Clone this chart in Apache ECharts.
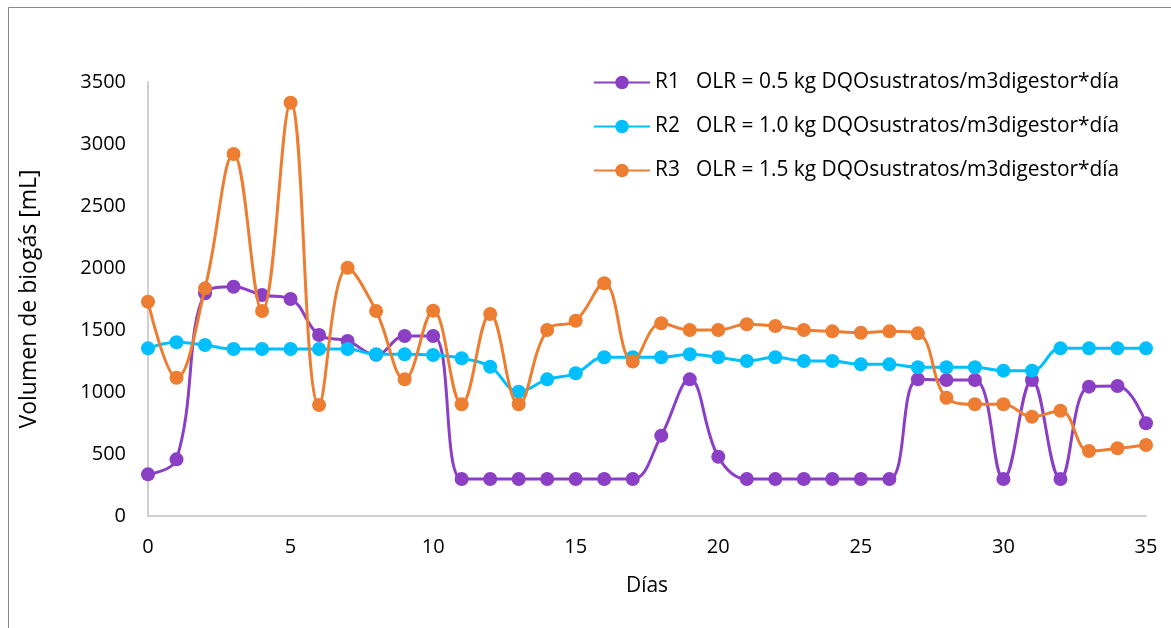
<!DOCTYPE html>
<html>
<head>
<meta charset="utf-8">
<script src="https://cdn.jsdelivr.net/npm/echarts@6/dist/echarts.min.js"></script>
<style>
html,body{margin:0;padding:0;background:#fff;}
#chart{width:1171px;height:628px;}
</style>
</head>
<body>
<div id="chart"></div>
<script>
const days = [0,1,2,3,4,5,6,7,8,9,10,11,12,13,14,15,16,17,18,19,20,21,22,23,24,25,26,27,28,29,30,31,32,33,34,35];
const r1 = [336,457,1796,1849,1782,1750,1460,1411,1300,1452,1452,298,298,298,298,298,298,298,648,1102,478,298,298,298,298,298,298,1102,1097,1097,298,1097,298,1043,1048,748];
const r2 = [1352,1401,1379,1347,1347,1347,1347,1347,1304,1304,1298,1272,1204,1003,1102,1151,1280,1280,1280,1304,1280,1250,1280,1250,1250,1223,1223,1199,1199,1199,1172,1172,1352,1352,1352,1352];
const r3 = [1728,1115,1836,2919,1653,3333,895,2002,1653,1102,1655,901,1629,901,1500,1575,1877,1245,1554,1500,1500,1546,1532,1500,1489,1478,1489,1473,954,901,901,801,849,524,546,573];
const seriesNames = ['R1   OLR = 0.5 kg DQOsustratos/m3digestor*día','R2   OLR = 1.0 kg DQOsustratos/m3digestor*día','R3   OLR = 1.5 kg DQOsustratos/m3digestor*día'];
const colors = ['#8B3FC4','#00BFFF','#ED7D31'];
const yTicks = {min:0,max:3500,interval:500};
const xTicks = {min:0,max:35,interval:5};

const FONT = 'Open Sans';
function mk(name, vals, color, z){
  return {
    name: name, type:'line', smooth:0.4, z:z,
    data: days.map((d,i)=>[d, vals[i]]),
    symbol:'circle', symbolSize:14,
    lineStyle:{color:color,width:3},
    itemStyle:{color:color},
    emphasis:{disabled:true}
  };
}
const chart = echarts.init(document.getElementById('chart'), null, {renderer:'canvas'});
chart.setOption({
  animation:false,
  backgroundColor:'#fff',
  textStyle:{fontFamily:FONT},
  graphic:[{type:'rect',shape:{x:8.5,y:7.5,width:1200,height:700},style:{fill:'none',stroke:'#888',lineWidth:1},silent:true}],
  grid:{left:148,right:25,top:82,bottom:112,containLabel:false},
  legend:{
    orient:'vertical', left:588, top:67, itemGap:23,
    itemWidth:56, itemHeight:17,
    textStyle:{fontFamily:FONT,fontSize:20.9,color:'#000'},
    data: seriesNames
  },
  xAxis:{
    type:'value', min:xTicks.min, max:xTicks.max, interval:xTicks.interval,
    name:'Días', nameLocation:'middle', nameGap:60,
    nameTextStyle:{fontFamily:FONT,fontSize:21,color:'#000'},
    axisLine:{show:true,lineStyle:{color:'#BFBFBF',width:1.5}},
    axisTick:{show:false},
    splitLine:{show:false},
    axisLabel:{fontFamily:FONT,fontSize:20,color:'#000',margin:21,formatter:v=>String(v)}
  },
  yAxis:{
    type:'value', min:yTicks.min, max:yTicks.max, interval:yTicks.interval,
    name:'Volumen de biogás [mL]', nameLocation:'middle', nameGap:107, nameRotate:90,
    nameTextStyle:{fontFamily:FONT,fontSize:23,color:'#000'},
    axisLine:{show:true,lineStyle:{color:'#BFBFBF',width:1.5}},
    axisTick:{show:false},
    splitLine:{show:false},
    axisLabel:{fontFamily:FONT,fontSize:20,color:'#000',margin:22,formatter:v=>String(v)}
  },
  series:[mk(seriesNames[0],r1,colors[0],3), mk(seriesNames[1],r2,colors[1],4), mk(seriesNames[2],r3,colors[2],5)]
});
</script>
</body>
</html>
